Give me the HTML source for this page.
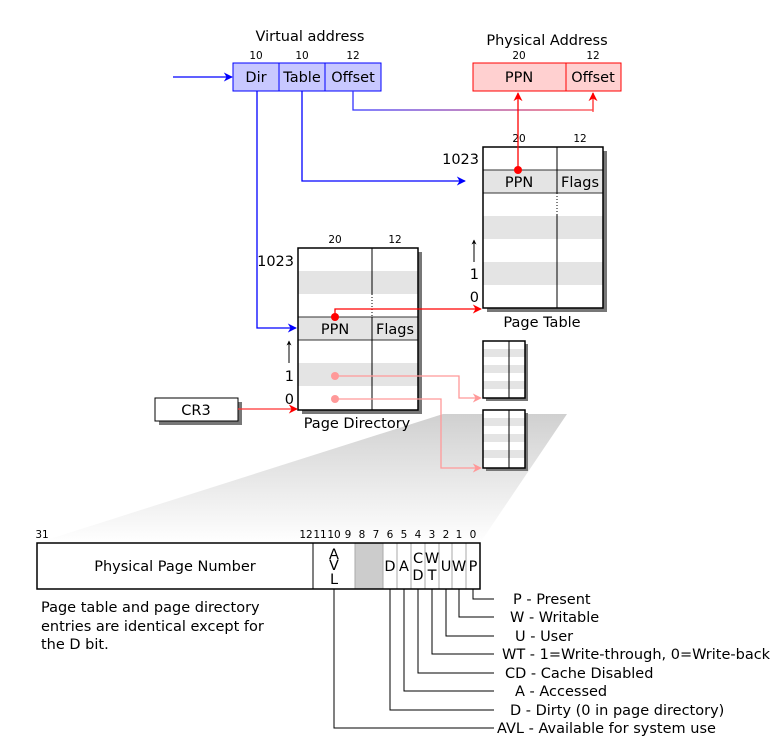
<!DOCTYPE html>
<html><head><meta charset="utf-8"><style>body{margin:0;background:#fff}svg{display:block;font-family:"DejaVu Sans","Liberation Sans",sans-serif}</style></head><body>
<svg width="782" height="746" viewBox="0 0 782 746" xmlns="http://www.w3.org/2000/svg">
<defs>
<linearGradient id="sh" x1="0" y1="0" x2="0" y2="1"><stop offset="0" stop-color="#d0d0d0"/><stop offset="1" stop-color="#fff"/></linearGradient>
<linearGradient id="br" x1="0" y1="0" x2="1" y2="0"><stop offset="0" stop-color="#33f"/><stop offset="1" stop-color="#f44"/></linearGradient>
<marker id="ab" viewBox="0 0 10 10" refX="9" refY="5" markerWidth="10" markerHeight="7" orient="auto"><path d="M0,0L10,5L0,10L3,5z" fill="#00f"/></marker>
<marker id="ar" viewBox="0 0 10 10" refX="9" refY="5" markerWidth="10" markerHeight="7" orient="auto"><path d="M0,0L10,5L0,10L3,5z" fill="#f00"/></marker>
<marker id="ap" viewBox="0 0 10 10" refX="9" refY="5" markerWidth="10" markerHeight="7" orient="auto"><path d="M0,0L10,5L0,10L3,5z" fill="#f99"/></marker>
<marker id="ak" viewBox="0 0 10 10" refX="9" refY="5" markerWidth="8" markerHeight="5" orient="auto"><path d="M0,0L10,5L0,10L3,5z" fill="#000"/></marker>
</defs>
<polygon points="443,414 567,414 480,543 37,543" fill="url(#sh)"/>
<text x="310" y="41" font-size="14.5" text-anchor="middle">Virtual address</text>
<g font-size="10.5" text-anchor="middle"><text x="256" y="59">10</text><text x="302" y="59">10</text><text x="353" y="59">12</text>
<text x="519" y="59">20</text><text x="593" y="59">12</text></g>
<rect x="233" y="63" width="148" height="28" fill="#c8c8ff" stroke="#00f"/>
<line x1="279" y1="63" x2="279" y2="91" stroke="#00f"/><line x1="325" y1="63" x2="325" y2="91" stroke="#00f"/>
<g font-size="14.5" text-anchor="middle"><text x="256" y="82">Dir</text><text x="302" y="82">Table</text><text x="353" y="82">Offset</text></g>
<text x="547" y="45" font-size="14.5" text-anchor="middle">Physical Address</text>
<rect x="473" y="63" width="148" height="28" fill="#ffd0d0" stroke="#f00"/>
<line x1="566" y1="63" x2="566" y2="91" stroke="#f00"/>
<g font-size="14.5" text-anchor="middle"><text x="519" y="82">PPN</text><text x="593" y="82">Offset</text></g>
<rect x="487" y="151" width="120" height="161" fill="#777"/>
<rect x="483" y="147" width="120" height="161" fill="#fff"/>
<rect x="483" y="170" width="120" height="23" fill="#e4e4e4"/>
<rect x="483" y="216" width="120" height="23" fill="#e4e4e4"/>
<rect x="483" y="262" width="120" height="23" fill="#e4e4e4"/>
<line x1="483" y1="170" x2="603" y2="170" stroke="#333"/><line x1="483" y1="193" x2="603" y2="193" stroke="#333"/>
<line x1="557" y1="147" x2="557" y2="193" stroke="#000"/><line x1="557" y1="193" x2="557" y2="215" stroke="#000" stroke-dasharray="1,2"/><line x1="557" y1="215" x2="557" y2="308" stroke="#000"/>
<rect x="483" y="147" width="120" height="161" fill="none" stroke="#000" stroke-width="1.5"/>
<g font-size="10.5" text-anchor="middle"><text x="519" y="142">20</text><text x="580" y="142">12</text></g>
<g font-size="14.5" text-anchor="middle"><text x="519" y="187">PPN</text><text x="580" y="187">Flags</text></g>
<g font-size="14.5" text-anchor="end"><text x="479" y="164">1023</text><text x="479" y="279">1</text><text x="479" y="302">0</text></g>
<line x1="474" y1="262" x2="474" y2="240" stroke="#000" marker-end="url(#ak)"/>
<text x="542" y="327" font-size="14.5" text-anchor="middle">Page Table</text>
<rect x="302" y="252" width="120" height="162" fill="#777"/>
<rect x="298" y="248" width="120" height="162" fill="#fff"/>
<rect x="298" y="271" width="120" height="23" fill="#e4e4e4"/>
<rect x="298" y="317" width="120" height="23" fill="#e4e4e4"/>
<rect x="298" y="363" width="120" height="23" fill="#e4e4e4"/>
<line x1="298" y1="317" x2="418" y2="317" stroke="#333"/><line x1="298" y1="340" x2="418" y2="340" stroke="#333"/>
<line x1="372" y1="248" x2="372" y2="294" stroke="#000"/><line x1="372" y1="294" x2="372" y2="316" stroke="#000" stroke-dasharray="1,2"/><line x1="372" y1="317" x2="372" y2="410" stroke="#000"/>
<rect x="298" y="248" width="120" height="162" fill="none" stroke="#000" stroke-width="1.5"/>
<g font-size="10.5" text-anchor="middle"><text x="335" y="243">20</text><text x="395" y="243">12</text></g>
<g font-size="14.5" text-anchor="middle"><text x="335" y="334">PPN</text><text x="395" y="334">Flags</text></g>
<g font-size="14.5" text-anchor="end"><text x="294" y="266">1023</text><text x="294" y="381">1</text><text x="294" y="404">0</text></g>
<line x1="289" y1="363" x2="289" y2="341" stroke="#000" marker-end="url(#ak)"/>
<text x="357" y="428" font-size="14.5" text-anchor="middle">Page Directory</text>
<g>
<rect x="486" y="344" width="42" height="57" fill="#777"/>
<rect x="483" y="341" width="42" height="57" fill="#fff"/>
<rect x="483" y="349" width="42" height="8" fill="#e4e4e4"/><rect x="483" y="365" width="42" height="8" fill="#e4e4e4"/><rect x="483" y="381" width="42" height="8" fill="#e4e4e4"/>
<line x1="509" y1="341" x2="509" y2="398" stroke="#000"/>
<rect x="483" y="341" width="42" height="57" fill="none" stroke="#000" stroke-width="1.5"/>
<rect x="486" y="413" width="42" height="58" fill="#777"/>
<rect x="483" y="410" width="42" height="58" fill="#fff"/>
<rect x="483" y="418" width="42" height="8" fill="#e4e4e4"/><rect x="483" y="434" width="42" height="8" fill="#e4e4e4"/><rect x="483" y="450" width="42" height="8" fill="#e4e4e4"/>
<line x1="509" y1="410" x2="509" y2="468" stroke="#000"/>
<rect x="483" y="410" width="42" height="58" fill="none" stroke="#000" stroke-width="1.5"/>
</g>
<rect x="159" y="402" width="83" height="23" fill="#777"/>
<rect x="155" y="398" width="83" height="23" fill="#fff" stroke="#000"/>
<text x="196" y="415" font-size="14.5" text-anchor="middle">CR3</text>
<g fill="none" stroke-width="1.3">
<line x1="173" y1="77" x2="232" y2="77" stroke="#00f" marker-end="url(#ab)"/>
<polyline points="257,91 257,328 296,328" stroke="#00f" marker-end="url(#ab)"/>
<polyline points="302,91 302,181 465,181" stroke="#00f" marker-end="url(#ab)"/>
<path d="M353,91V110H593V93" stroke="url(#br)"/>
<line x1="593" y1="112" x2="593" y2="93" stroke="#f44" marker-end="url(#ar)"/>
<line x1="518" y1="170" x2="518" y2="93" stroke="#f00" marker-end="url(#ar)"/>
<polyline points="335,317 335,309 481,309" stroke="#f00" marker-end="url(#ar)"/>
<line x1="238" y1="409" x2="297" y2="409" stroke="#f33" marker-end="url(#ar)"/>
<polyline points="335,376 459,376 459,398 481,398" stroke="#f99" marker-end="url(#ap)"/>
<polyline points="335,399 441,399 441,468 481,468" stroke="#f99" marker-end="url(#ap)"/>
</g>
<circle cx="518" cy="170" r="4" fill="#f00"/>
<circle cx="335" cy="317" r="4" fill="#f00"/>
<circle cx="335" cy="376" r="4" fill="#f99"/>
<circle cx="335" cy="399" r="4" fill="#f99"/>
<rect x="37" y="543" width="443" height="46" fill="#fff"/>
<rect x="355" y="543" width="28" height="46" fill="#ccc"/>
<g stroke="#aaa"><line x1="355" y1="543" x2="355" y2="589"/><line x1="383" y1="543" x2="383" y2="589"/><line x1="397" y1="543" x2="397" y2="589"/><line x1="411" y1="543" x2="411" y2="589"/><line x1="425" y1="543" x2="425" y2="589"/><line x1="439" y1="543" x2="439" y2="589"/><line x1="452" y1="543" x2="452" y2="589"/><line x1="466" y1="543" x2="466" y2="589"/></g>
<line x1="313" y1="543" x2="313" y2="589" stroke="#000"/>
<rect x="37" y="543" width="443" height="46" fill="none" stroke="#000" stroke-width="1.5"/>
<text x="175" y="571" font-size="14.5" text-anchor="middle">Physical Page Number</text>
<g font-size="14.5" text-anchor="middle">
<text x="334" y="559">A</text><text x="334" y="570">V</text><text x="334" y="584">L</text>
<text x="390" y="571">D</text><text x="404" y="571">A</text>
<text x="418" y="563">C</text><text x="418" y="580">D</text>
<text x="432" y="563">W</text><text x="432" y="580">T</text>
<text x="446" y="571">U</text><text x="459" y="571">W</text><text x="473" y="571">P</text>
</g>
<g font-size="10.5" text-anchor="middle"><text x="42" y="538">31</text><text x="306" y="538">12</text><text x="320" y="538">11</text><text x="334" y="538">10</text><text x="348" y="538">9</text><text x="362" y="538">8</text><text x="376" y="538">7</text><text x="390" y="538">6</text><text x="404" y="538">5</text><text x="418" y="538">4</text><text x="432" y="538">3</text><text x="446" y="538">2</text><text x="459" y="538">1</text><text x="473" y="538">0</text></g>
<g font-size="14.5"><text x="41" y="612">Page table and page directory</text><text x="41" y="631">entries are identical except for</text><text x="41" y="649">the D bit.</text></g>
<g fill="none" stroke="#000" stroke-width="1">
<polyline points="473,589 473,599 494,599"/><polyline points="459,589 459,617 494,617"/><polyline points="446,589 446,636 494,636"/><polyline points="432,589 432,654 494,654"/><polyline points="418,589 418,673 494,673"/><polyline points="404,589 404,691 494,691"/><polyline points="390,589 390,710 494,710"/><polyline points="334,589 334,728 494,728"/>
</g>
<g font-size="14.5"><text x="513" y="604">P - Present</text><text x="510" y="622">W - Writable</text><text x="515" y="641">U - User</text><text x="502" y="659">WT - 1=Write-through, 0=Write-back</text><text x="505" y="678">CD - Cache Disabled</text><text x="515" y="696">A - Accessed</text><text x="510" y="715">D - Dirty (0 in page directory)</text><text x="497" y="733">AVL - Available for system use</text></g>
</svg>
</body></html>
